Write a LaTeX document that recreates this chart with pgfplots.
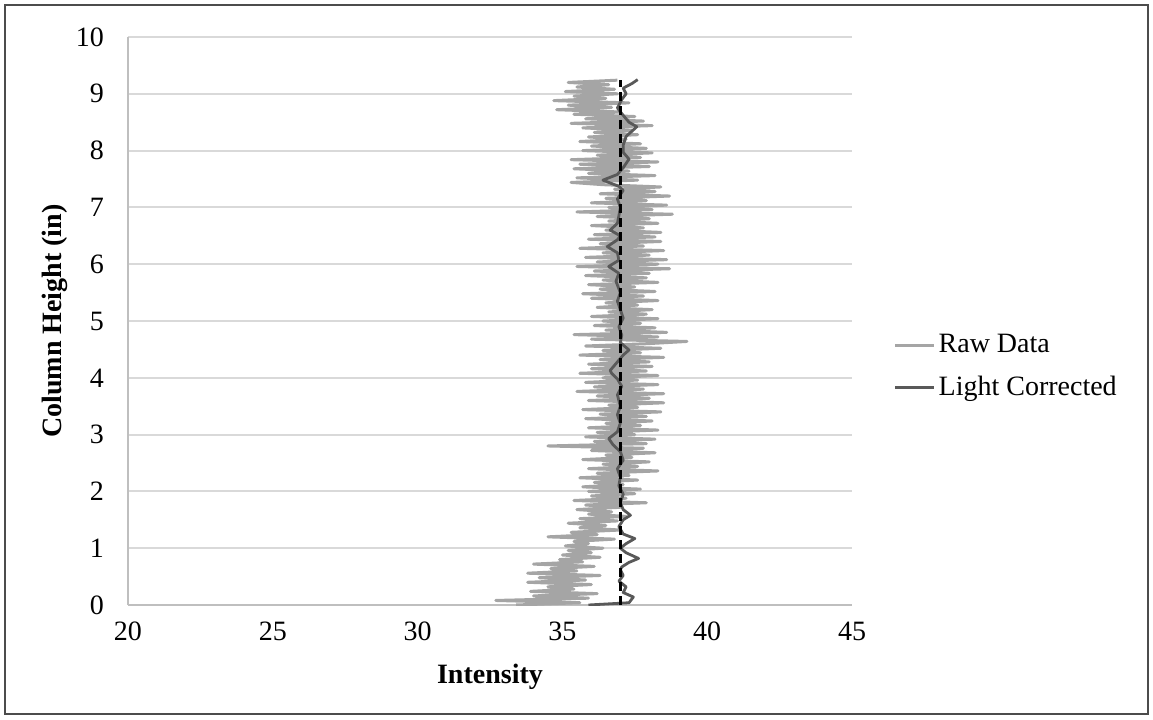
\documentclass[border=0pt]{standalone}
\usepackage{pgfplots}
\pgfplotsset{compat=1.18}
\usepackage{fontspec}
\setmainfont{Liberation Serif}
\definecolor{rawc}{HTML}{A5A5A5}
\definecolor{corr}{HTML}{595959}
\definecolor{gridc}{HTML}{D9D9D9}
\definecolor{axc}{HTML}{BFBFBF}
\begin{document}
\begin{tikzpicture}
\path (-64pt,-57pt) rectangle (512.5pt,302.5pt);
\draw[line width=1pt, black!70] (-61.5pt,-54.5pt) rectangle (510pt,300pt);
\begin{axis}[
  at={(0,0)}, anchor=south west,
  scale only axis, width=362pt, height=284pt,
  xmin=20, xmax=45, ymin=0, ymax=10,
  xtick={20,25,30,35,40,45}, ytick={0,1,2,3,4,5,6,7,8,9,10},
  /pgf/number format/assume math mode=true,
  axis lines*=left,
  axis line style={-, draw=axc, line width=1pt},
  ymajorgrids, grid style={draw=gridc, line width=1pt},
  major tick length=0pt,
  tick style={draw=none},
  tick label style={font=\fontsize{14}{16}\selectfont},
  xticklabel style={yshift=-5pt},
  yticklabel style={xshift=-8.5pt},
  xlabel={\textbf{Intensity}},
  ylabel={\textbf{Column Height (in)}},
  label style={font=\fontsize{14}{16}\selectfont},
  xlabel style={at={(axis description cs:0.5,-0.1268)}, anchor=center},
  ylabel style={at={(axis description cs:-0.1008,0.5)}, anchor=center},
  legend style={at={(axis description cs:1.057,0.42)}, anchor=west, draw=none, fill=none,
    inner sep=0pt, font=\fontsize{14}{16}\selectfont, row sep=7pt,
    nodes={inner sep=1.5pt}},
  legend cell align=left,
  legend image code/.code={\draw[#1] (0pt,0pt) -- (19.5pt,0pt);},
]
\addplot[rawc, line width=1.5pt, line join=round] coordinates {
(33.4,0.00) (35.6,0.04) (32.7,0.08) (35.9,0.12) (34.0,0.16) (36.2,0.20) (33.9,0.24) (35.4,0.28)
(34.5,0.32) (36.0,0.36) (33.8,0.40) (35.8,0.44) (34.2,0.48) (36.3,0.52) (33.8,0.56) (35.5,0.60)
(34.6,0.64) (36.1,0.68) (34.0,0.72) (35.7,0.76) (34.9,0.80) (36.3,0.84) (35.0,0.88) (36.0,0.92)
(35.2,0.96) (36.4,1.00) (35.1,1.04) (35.9,1.08) (35.4,1.12) (36.8,1.16) (34.5,1.20) (36.2,1.24)
(35.3,1.28) (37.0,1.32) (35.6,1.36) (36.5,1.40) (35.2,1.44) (36.9,1.48) (35.6,1.52) (37.2,1.56)
(35.9,1.60) (36.7,1.64) (35.5,1.68) (37.0,1.72) (35.8,1.76) (37.9,1.80) (35.4,1.84) (37.2,1.88)
(36.0,1.92) (37.5,1.96) (35.9,2.00) (37.7,2.04) (35.7,2.08) (37.1,2.12) (36.1,2.16) (37.6,2.20)
(35.6,2.24) (37.3,2.28) (36.2,2.32) (38.3,2.36) (35.9,2.40) (37.6,2.44) (36.4,2.48) (38.0,2.52)
(35.7,2.56) (37.4,2.60) (36.5,2.64) (38.2,2.68) (36.0,2.72) (37.8,2.76) (34.5,2.80) (37.9,2.84)
(36.1,2.88) (38.2,2.92) (35.8,2.96) (37.5,3.00) (36.2,3.04) (38.3,3.08) (35.9,3.12) (37.7,3.16)
(36.5,3.20) (38.1,3.24) (35.8,3.28) (37.9,3.32) (36.3,3.36) (38.4,3.40) (35.7,3.44) (37.6,3.48)
(36.6,3.52) (38.5,3.56) (35.9,3.60) (38.0,3.64) (36.2,3.68) (38.5,3.72) (35.5,3.76) (37.8,3.80)
(36.1,3.84) (38.3,3.88) (35.8,3.92) (37.6,3.96) (36.4,4.00) (38.3,4.04) (35.6,4.08) (37.9,4.12)
(36.0,4.16) (38.1,4.20) (35.9,4.24) (38.0,4.28) (36.3,4.32) (38.5,4.36) (35.6,4.40) (37.7,4.44)
(36.4,4.48) (38.4,4.52) (35.8,4.56) (37.9,4.60) (39.3,4.64) (36.0,4.68) (38.3,4.72) (35.4,4.76)
(38.6,4.80) (36.5,4.84) (38.2,4.88) (36.1,4.92) (37.7,4.96) (36.4,5.00) (38.3,5.04) (36.0,5.08)
(37.9,5.12) (36.6,5.16) (38.1,5.20) (36.2,5.24) (37.6,5.28) (36.5,5.32) (38.3,5.36) (36.0,5.40)
(37.8,5.44) (35.7,5.48) (38.2,5.52) (36.3,5.56) (37.5,5.60) (35.9,5.64) (38.3,5.68) (36.4,5.72)
(37.9,5.76) (35.8,5.80) (38.0,5.84) (36.1,5.88) (38.7,5.92) (35.5,5.96) (38.3,6.00) (36.2,6.04)
(38.6,6.08) (35.8,6.12) (38.0,6.16) (36.4,6.20) (38.5,6.24) (35.6,6.28) (37.8,6.32) (36.3,6.36)
(38.4,6.40) (35.9,6.44) (38.2,6.48) (36.1,6.52) (38.4,6.56) (36.5,6.60) (37.8,6.64) (36.0,6.68)
(38.3,6.72) (36.6,6.76) (38.0,6.80) (36.2,6.84) (38.8,6.88) (35.5,6.92) (38.1,6.96) (36.6,7.00)
(38.6,7.04) (36.0,7.08) (37.9,7.12) (36.5,7.16) (38.7,7.20) (36.3,7.24) (38.2,7.28) (36.8,7.32)
(38.4,7.36) (36.4,7.40) (35.3,7.44) (37.6,7.48) (35.5,7.52) (38.2,7.56) (35.9,7.60) (37.3,7.64)
(35.4,7.68) (38.0,7.72) (35.6,7.76) (38.3,7.80) (35.3,7.84) (37.7,7.88) (36.2,7.92) (38.1,7.96)
(35.7,8.00) (37.9,8.04) (36.0,8.08) (37.7,8.12) (35.6,8.16) (37.2,8.20) (35.9,8.24) (37.6,8.28)
(36.1,8.32) (37.4,8.36) (35.7,8.40) (38.1,8.44) (35.3,8.48) (37.8,8.52) (35.8,8.56) (37.5,8.60)
(35.4,8.64) (37.0,8.68) (34.8,8.72) (36.7,8.76) (35.2,8.80) (37.3,8.84) (34.7,8.88) (36.5,8.92)
(35.4,8.96) (36.9,9.00) (35.1,9.04) (36.8,9.08) (35.5,9.12) (36.6,9.16) (35.2,9.20) (36.9,9.24)
};
\addlegendentry{Raw Data}
\addplot[corr, line width=1.4pt, line join=round] coordinates {
(35.9,0.00) (37.3,0.04) (37.45,0.14) (37.1,0.22) (37.2,0.32) (36.95,0.42) (37.1,0.52) (37.0,0.62)
(37.05,0.67) (37.3,0.75) (37.63,0.82) (37.2,0.92) (37.0,1.00) (37.2,1.08) (37.5,1.17) (37.1,1.25)
(36.95,1.38) (37.1,1.50) (37.35,1.58) (37.1,1.68) (37.0,1.80) (37.1,1.95) (36.95,2.10) (37.0,2.25)
(36.9,2.40) (37.1,2.55) (37.0,2.70) (36.75,2.82) (36.6,2.93) (36.9,3.05) (37.0,3.20) (36.9,3.35)
(37.0,3.50) (36.9,3.70) (37.05,3.85) (36.9,3.98) (36.7,4.08) (36.65,4.13) (36.85,4.25) (37.1,4.40)
(37.3,4.49) (37.0,4.62) (37.05,4.75) (36.95,4.90) (37.1,5.05) (37.0,5.20) (36.9,5.35) (37.0,5.50)
(36.85,5.70) (36.95,5.84) (36.6,5.96) (36.95,6.07) (36.9,6.20) (36.55,6.31) (36.9,6.43) (37.0,6.50)
(36.65,6.60) (36.9,6.72) (36.95,6.85) (37.0,7.00) (36.9,7.15) (37.1,7.30) (36.95,7.37) (36.4,7.48)
(36.9,7.58) (37.1,7.70) (37.3,7.85) (37.1,7.97) (37.1,8.10) (37.2,8.25) (37.57,8.42) (37.3,8.50)
(37.1,8.62) (36.9,8.75) (37.05,8.90) (37.2,9.00) (37.1,9.10) (37.4,9.18) (37.6,9.25)
};
\addlegendentry{Light Corrected}
\addplot[black, line width=1.5pt, dash pattern=on 4.5pt off 2.5pt, forget plot] coordinates {(37,0) (37,9.25)};
\end{axis}
\end{tikzpicture}
\end{document}
